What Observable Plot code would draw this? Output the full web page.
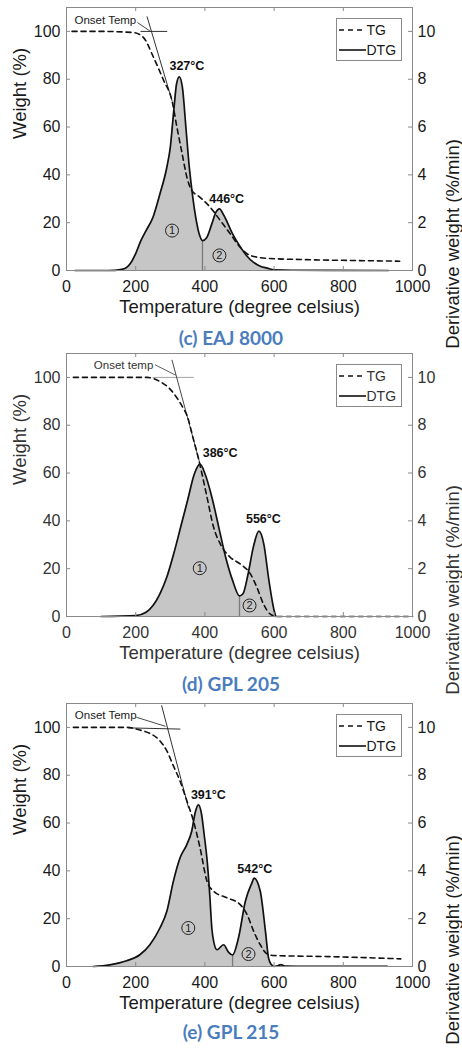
<!DOCTYPE html>
<html>
<head>
<meta charset="utf-8">
<script src="https://cdn.jsdelivr.net/npm/d3@7"></script>
<script src="https://cdn.jsdelivr.net/npm/@observablehq/plot@0.6"></script>
<style>
  body { margin: 0; background: #fff; }
  #root { position: relative; width: 462px; height: 1048px; overflow: hidden; }
  .panel { position: absolute; left: 0; }
  .caption { position: absolute; left: 0; width: 462px; text-align: center; font-family: Lato, "Open Sans", sans-serif; font-weight: bold; color: #4a7dbd; font-size: 19px; line-height: 24px; }
  .legend { position: absolute; }
</style>
</head>
<body>
<div id="root"></div>
<script>
// ---------- shared ----------
const temperatureTicks = [0, 200, 400, 600, 800, 1000];
const weightTicks = [0, 20, 40, 60, 80, 100];
const captions = ["(c) EAJ 8000", "(d) GPL 205", "(e) GPL 215"];
const legendLabels = ["TG", "DTG"];
const xTitle = "Temperature (degree celsius)";
const yTitle = "Weight (%)";
const y2Title = "Derivative weight (%/min)";
const stageLabels = ["1", "2"];

// ---------- (c) EAJ 8000 ----------
const tgTempC   = [16, 100, 194, 222, 252, 281, 305, 319, 334, 348, 360, 386, 415, 444, 473, 502, 531, 579, 675, 819, 963];
const tgWeightC = [100, 100, 99.5, 97.5, 89, 79.4, 71, 60, 49, 39, 34, 30.6, 26.5, 21, 15.4, 9.7, 6.3, 5.1, 4.6, 4.2, 3.9];
const dtgTempC  = [25, 120, 160, 175, 185, 200, 215, 230, 250, 270, 290, 300, 310, 318, 326, 335, 345, 355, 365, 375, 385, 393, 405, 420, 432, 442, 455, 480, 500, 520, 540, 560, 580, 600, 650, 930];
const dtgRateC  = [0, 0, 0.05, 0.14, 0.3, 0.71, 1.25, 1.67, 2.23, 3.2, 4.32, 5.15, 6.69, 7.8, 8.1, 7.66, 6.0, 4.3, 3.06, 2.1, 1.46, 1.25, 1.37, 1.95, 2.44, 2.58, 2.3, 1.53, 1.04, 0.63, 0.35, 0.18, 0.1, 0.03, 0.01, 0];
const peakLabelsC = ["327°C", "446°C"];
const peakLabelTempC = [348, 463];
const peakLabelWeightC = [85.4, 30];
const stageTempC = [305, 442];
const stageWeightC = [16.7, 6.3];
const splitTempC = 393, splitRateC = 1.25;
const onsetTextC = "Onset Temp";
const onsetTextAtC = [23, 104.5];
const onsetFlatC = [[215, 100], [290, 100]];
const onsetTangentC = [[233, 106.1], [305, 71]];
const onsetLeaderC = [[206, 103.6], [240, 100.3]];

// ---------- (d) GPL 205 ----------
const tgTempD   = [20, 233, 271, 300, 319, 338, 348, 367, 381, 391, 406, 425, 444, 473, 502, 531, 550, 569, 588, 608, 1000];
const tgWeightD = [100, 100, 98.2, 95, 91.5, 87, 84.2, 74, 66.3, 60, 50, 37.4, 30.5, 24.8, 22, 17.9, 12.3, 5.3, 1.1, 0, 0];
const dtgTempD  = [100, 200, 230, 250, 270, 290, 310, 330, 350, 370, 386, 400, 420, 440, 460, 480, 500, 510, 525, 540, 556, 570, 585, 600, 605];
const dtgRateD  = [0, 0.04, 0.18, 0.46, 0.95, 1.65, 2.63, 3.74, 4.86, 5.98, 6.37, 5.98, 5.0, 3.74, 2.48, 1.51, 0.86, 0.95, 1.79, 2.9, 3.57, 3.05, 1.51, 0.25, 0];
const peakLabelsD = ["386°C", "556°C"];
const peakLabelTempD = [444, 569];
const peakLabelWeightD = [68.4, 40.6];
const stageTempD = [385, 529];
const stageWeightD = [20.2, 4.6];
const splitTempD = 500, splitRateD = 0.86;
const onsetTextD = "Onset temp";
const onsetTextAtD = [79, 105.2];
const onsetFlatD = [[250, 100], [367, 100]];
const onsetTangentD = [[305, 107.2], [384.5, 64.6]];
const onsetLeaderD = [[257, 105.2], [314.5, 101]];

// ---------- (e) GPL 215 ----------
const tgTempE   = [20, 174, 212, 241, 270, 290, 309, 328, 348, 367, 386, 406, 425, 464, 502, 522, 541, 560, 580, 599, 773, 966];
const tgWeightE = [100, 100, 98.9, 97.5, 94.4, 90.2, 83.9, 77.6, 69.2, 60.8, 49.6, 35.7, 31.5, 28.7, 25.9, 21.7, 14.7, 9.1, 5.2, 4.6, 4.1, 3.2];
const dtgTempE  = [77, 125, 174, 212, 241, 270, 290, 309, 328, 348, 362, 372, 381, 390, 398, 406, 414, 420, 426, 435, 454, 468, 480, 497, 517, 536, 542, 560, 575, 584, 592, 600, 612, 620, 630, 700, 927];
const dtgRateE  = [0, 0.07, 0.24, 0.49, 0.91, 1.61, 2.31, 3.57, 4.54, 5.11, 5.67, 6.44, 6.76, 6.4, 5.5, 4.5, 3.0, 1.6, 1.0, 0.7, 0.91, 0.6, 0.48, 1.19, 2.73, 3.5, 3.7, 3.15, 1.47, 0.35, 0.08, 0, 0.04, 0.08, 0.02, 0.01, 0.01];
const peakLabelsE = ["391°C", "542°C"];
const peakLabelTempE = [410, 544];
const peakLabelWeightE = [71.8, 40.6];
const stageTempE = [352, 526];
const stageWeightE = [16.1, 5.2];
const splitTempE = 480, splitRateE = 0.48;
const onsetTextE = "Onset Temp";
const onsetTextAtE = [24, 104.9];
const onsetFlatE = [[180, 99.8], [328, 99.3]];
const onsetTangentE = [[275, 109.1], [352.5, 66.4]];
const onsetLeaderE = [[203, 104.2], [285, 100.5]];

// ---------- build ----------
const W = 462, H = 325, ML = 66, MR = 50, MT = 7, MB = 55;
const FONT = "'Liberation Sans', Arial, sans-serif";

function makePanel(p) {
  const tg = p.tgT.map((t, i) => ({t, w: p.tgW[i]}));
  const dtg = p.dtgT.map((t, i) => ({t, r: p.dtgR[i]}));
  const peaks = p.peakLabels.map((s, i) => ({s, t: p.peakT[i], w: p.peakW[i]}));
  const stages = stageLabels.map((s, i) => ({s, t: p.stageT[i], w: p.stageW[i]}));
  const plotW = W - ML - MR, plotH = H - MT - MB;
  const ink = p.ink;
  return Plot.plot({
    width: W, height: H,
    marginLeft: ML, marginRight: MR, marginTop: MT, marginBottom: MB,
    style: {fontFamily: FONT, fontSize: "16px", color: ink, background: "transparent", overflow: "visible"},
    x: {domain: [0, 1000]},
    y: {domain: [0, 110]},
    marks: [
      Plot.areaY(dtg, {x: "t", y: d => d.r * 10, fill: "#c6c6c6", curve: "monotone-x"}),
      Plot.ruleX([p.split], {x: d => d, y1: 0, y2: p.splitRate * 10, stroke: "#7a7a7a", strokeWidth: 1.3}),
      Plot.line(p.onsetFlat, {x: d => d[0], y: d => d[1], stroke: p.flatColor, strokeWidth: 0.9}),
      Plot.line(p.onsetTangent, {x: d => d[0], y: d => d[1], stroke: ink, strokeWidth: 0.9}),
      Plot.line(p.onsetLeader, {x: d => d[0], y: d => d[1], stroke: ink, strokeWidth: 0.8}),
      Plot.text([p.onsetText], {x: p.onsetAt[0], y: p.onsetAt[1], textAnchor: "start", fontSize: 11.5, fill: ink}),
      Plot.lineY(dtg, {x: "t", y: d => d.r * 10, stroke: "#111", strokeWidth: 1.7, curve: "monotone-x"}),
      Plot.lineY(tg, {x: "t", y: "w", stroke: "#111", strokeWidth: 1.6, strokeDasharray: "5,4", curve: "monotone-x"}),
      Plot.dot(stages, {x: "t", y: "w", r: 6.5, stroke: "#222", strokeWidth: 1, fill: "none"}),
      Plot.text(stages, {x: "t", y: "w", text: "s", fontSize: 11, fill: "#222"}),
      Plot.text(peaks, {x: "t", y: "w", text: "s", fontSize: 12.5, fontWeight: "bold", fill: "#111"}),
      Plot.frame({stroke: "#8a8a8a"}),
      Plot.tickY(weightTicks, {y: d => d, stroke: "#8a8a8a", insetRight: plotW - 4}),
      Plot.tickY(weightTicks, {y: d => d, stroke: "#8a8a8a", insetLeft: plotW - 4}),
      Plot.tickX(temperatureTicks, {x: d => d, stroke: "#8a8a8a", insetTop: plotH - 4}),
      Plot.tickX(temperatureTicks, {x: d => d, stroke: "#8a8a8a", insetBottom: plotH - 4}),
      Plot.axisX(temperatureTicks, {tickSize: 0, tickPadding: 10, tickFormat: d => String(d), label: null, fontSize: 16, fill: ink}),
      Plot.axisY(weightTicks, {tickSize: 0, tickPadding: 6, tickFormat: d => String(d), label: null, fontSize: 16, fill: ink}),
      Plot.axisY(weightTicks, {anchor: "right", tickFormat: d => String(d / 10), tickSize: 0, tickPadding: 5, label: null, fontSize: 16, fill: ink}),
      Plot.text([xTitle], {frameAnchor: "bottom", dy: 42, fontSize: 18.5, fill: ink}),
      Plot.text([yTitle], {frameAnchor: "left", rotate: -90, dx: -46, fontSize: 18.5, fill: ink}),
      Plot.text([y2Title], {frameAnchor: "right", rotate: -90, dx: 40.5, fontSize: 18.5, fill: ink})
    ]
  });
}

function makeLegend(top, ink) {
  const svg = d3.create("svg").attr("width", 66).attr("height", 43)
    .style("font-family", FONT).style("font-size", "14px");
  svg.append("rect").attr("x", 0.5).attr("y", 0.5).attr("width", 65).attr("height", 42)
    .attr("fill", "#fff").attr("stroke", "#8a8a8a");
  legendLabels.forEach((lab, i) => {
    const yy = 12 + i * 20;
    svg.append("line").attr("x1", 3).attr("x2", 30).attr("y1", yy).attr("y2", yy)
      .attr("stroke", "#111").attr("stroke-width", 1.6)
      .attr("stroke-dasharray", i === 0 ? "5,4" : null);
    svg.append("text").attr("x", 30.5).attr("y", yy).attr("dy", "0.36em").attr("fill", ink).text(lab);
  });
  const d = document.createElement("div");
  d.className = "legend";
  d.style.left = "336px";
  d.style.top = top + "px";
  d.appendChild(svg.node());
  return d;
}

const panels = [
  {top: 0, cap: 337.5, ink: "#1a1a1a", flatColor: "#1a1a1a",
   tgT: tgTempC, tgW: tgWeightC, dtgT: dtgTempC, dtgR: dtgRateC,
   peakLabels: peakLabelsC, peakT: peakLabelTempC, peakW: peakLabelWeightC,
   stageT: stageTempC, stageW: stageWeightC, split: splitTempC, splitRate: splitRateC,
   onsetText: onsetTextC, onsetAt: onsetTextAtC, onsetFlat: onsetFlatC, onsetTangent: onsetTangentC, onsetLeader: onsetLeaderC},
  {top: 346, cap: 684, ink: "#333", flatColor: "#9a9a9a",
   tgT: tgTempD, tgW: tgWeightD, dtgT: dtgTempD, dtgR: dtgRateD,
   peakLabels: peakLabelsD, peakT: peakLabelTempD, peakW: peakLabelWeightD,
   stageT: stageTempD, stageW: stageWeightD, split: splitTempD, splitRate: splitRateD,
   onsetText: onsetTextD, onsetAt: onsetTextAtD, onsetFlat: onsetFlatD, onsetTangent: onsetTangentD, onsetLeader: onsetLeaderD},
  {top: 696, cap: 1032, ink: "#1a1a1a", flatColor: "#1a1a1a",
   tgT: tgTempE, tgW: tgWeightE, dtgT: dtgTempE, dtgR: dtgRateE,
   peakLabels: peakLabelsE, peakT: peakLabelTempE, peakW: peakLabelWeightE,
   stageT: stageTempE, stageW: stageWeightE, split: splitTempE, splitRate: splitRateE,
   onsetText: onsetTextE, onsetAt: onsetTextAtE, onsetFlat: onsetFlatE, onsetTangent: onsetTangentE, onsetLeader: onsetLeaderE}
];

const root = document.getElementById("root");
panels.forEach((p, i) => {
  const wrap = document.createElement("div");
  wrap.className = "panel";
  wrap.style.top = p.top + "px";
  wrap.appendChild(makePanel(p));
  root.appendChild(wrap);
  root.appendChild(makeLegend(p.top + MT + 11, p.ink));
  const cap = document.createElement("div");
  cap.className = "caption";
  cap.style.top = (p.cap - 12) + "px";
  cap.textContent = captions[i];
  root.appendChild(cap);
});
</script>
</body>
</html>
